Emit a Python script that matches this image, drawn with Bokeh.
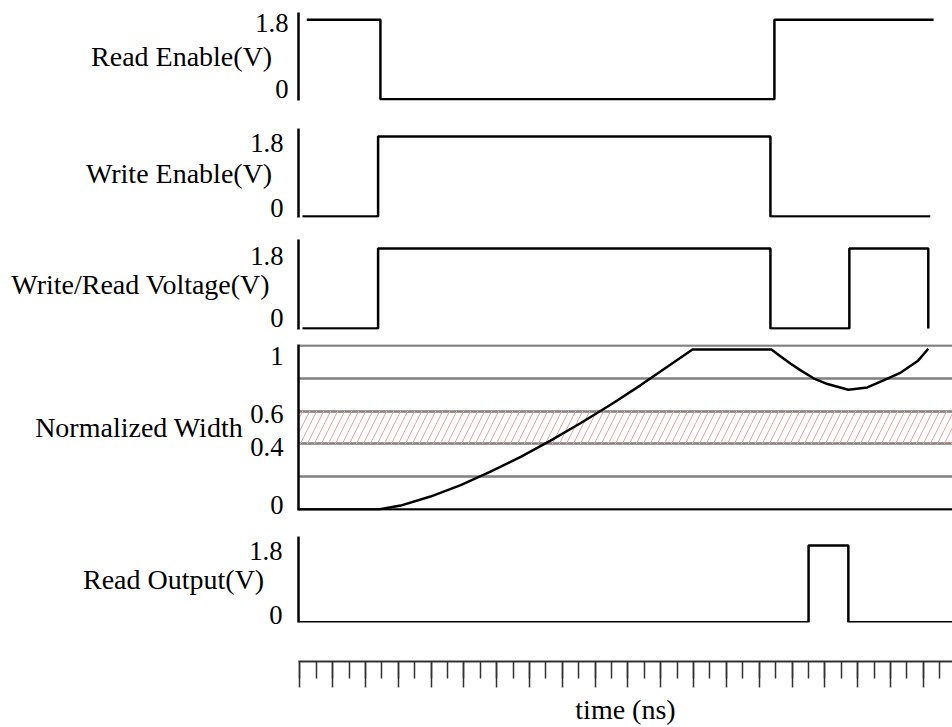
from bokeh.plotting import figure
from bokeh.layouts import column
from bokeh.models import Range1d, FixedTicker, SingleIntervalTicker, BoxAnnotation, Span
from bokeh.embed import file_html
from bokeh.resources import INLINE

# ---------------- data (time in ns) ----------------
t_panel_start = 0.17
t_axis_start = -0.04
t_end = 19.89

read_enable_t = [0.42, 2.64, 2.64, 14.52, 14.52, 19.32]
read_enable_v = [1.8, 1.8, 0.0, 0.0, 1.8, 1.8]

write_enable_t = [0.29, 2.57, 2.57, 14.40, 14.40, 19.22]
write_enable_v = [0.0, 0.0, 1.8, 1.8, 0.0, 0.0]

wr_voltage_t = [0.29, 2.57, 2.57, 14.40, 14.40, 16.78, 16.78, 19.16, 19.16]
wr_voltage_v = [0.0, 0.0, 1.8, 1.8, 0.0, 0.0, 1.8, 1.8, 0.0]

norm_width_t = [0.17, 2.58, 3.25, 4.15, 5.06, 5.96, 6.87, 7.77, 8.67, 9.58, 10.48, 11.38, 12.05,
                14.43, 14.70, 15.00, 15.30, 15.70, 16.12, 16.75, 17.32, 17.81, 18.33, 18.84, 19.16]
norm_width_v = [0.0, 0.0, 0.024, 0.079, 0.149, 0.231, 0.321, 0.420, 0.526, 0.639, 0.757, 0.882, 0.976,
                0.976, 0.935, 0.89, 0.85, 0.80, 0.765, 0.73, 0.744, 0.787, 0.835, 0.905, 0.98]

read_out_t = [0.17, 15.55, 15.55, 16.75, 16.75, 19.89]
read_out_v = [0.0, 0.0, 1.8, 1.8, 0.0, 0.0]

volt_ticks = [0.0, 1.8]
volt_labels = ["0", "1.8"]
width_ticks = [0.0, 0.4, 0.6, 1.0]
width_labels = ["0", "0.4", "0.6", "1"]
width_grid = [0.2, 0.4, 0.6, 0.8, 1.0]
band = [0.4, 0.6]

panel_names = ["Read Enable(V)", "Write Enable(V)", "Write/Read Voltage(V)",
               "Normalized Width", "Read Output(V)"]
time_label = "time (ns)"

# ---------------- style ----------------
FONT = "Liberation Serif"
TICK_SIZE = "20pt"
NAME_SIZE = "21pt"
W = 952
LEFT = 298
LW = 2.5


def base_fig(height, top, bottom, y0, y1, left=LEFT, x0=t_panel_start):
    p = figure(width=W, height=height, output_backend="svg", toolbar_location=None,
               x_range=Range1d(x0, t_end), y_range=Range1d(y0, y1),
               x_axis_type=None, min_border_left=left, min_border_right=0,
               min_border_top=top, min_border_bottom=bottom)
    p.outline_line_color = None
    p.xgrid.visible = False
    p.ygrid.visible = False
    p.background_fill_color = "white"
    p.border_fill_color = "white"
    return p


def style_yaxis(p, name, ticks, labels, shifts, label_standoff, name_standoff):
    ax = p.yaxis[0]
    pos = [t + s for t, s in zip(ticks, shifts)]
    ax.ticker = FixedTicker(ticks=pos)
    ax.major_label_overrides = {v: lab for v, lab in zip(pos, labels)}
    ax.major_tick_line_color = None
    ax.minor_tick_line_color = None
    ax.major_tick_in = 0
    ax.major_tick_out = 0
    ax.axis_line_color = "black"
    ax.axis_line_width = LW
    ax.major_label_text_font = FONT
    ax.major_label_text_font_size = TICK_SIZE
    ax.major_label_text_color = "black"
    ax.major_label_standoff = label_standoff
    ax.axis_label = name
    ax.axis_label_orientation = "horizontal"
    ax.axis_label_text_font = FONT
    ax.axis_label_text_font_size = NAME_SIZE
    ax.axis_label_text_font_style = "normal"
    ax.axis_label_text_color = "black"
    ax.axis_label_standoff = name_standoff
    return ax


figs = []

# Panel 1: Read Enable
p1 = base_fig(114, 12, 14, -0.03, 1.966)
p1.line(read_enable_t, read_enable_v, line_color="black", line_width=LW)
style_yaxis(p1, panel_names[0], volt_ticks, volt_labels, [0.24, -0.08], 10, -20)
figs.append(p1)

# Panel 2: Write Enable
p2 = base_fig(114, 14, 11, -0.023, 1.98)
p2.line(write_enable_t, write_enable_v, line_color="black", line_width=LW)
style_yaxis(p2, panel_names[1], volt_ticks, volt_labels, [0.2, -0.14], 15, -25)
figs.append(p2)

# Panel 3: Write/Read Voltage
p3 = base_fig(107, 11, 6, -0.023, 2.0)
p3.line(wr_voltage_t, wr_voltage_v, line_color="black", line_width=LW)
style_yaxis(p3, panel_names[2], volt_ticks, volt_labels, [0.23, -0.16], 15, -23)
figs.append(p3)

# Panel 4: Normalized Width
p4 = base_fig(185, 9, 10, -0.006, 1.006)
p4.ygrid.visible = True
p4.ygrid.ticker = FixedTicker(ticks=width_grid)
p4.ygrid.grid_line_color = "#808080"
p4.ygrid.grid_line_width = 2.5
p4.add_layout(BoxAnnotation(bottom=band[0], top=band[1], fill_alpha=0, fill_color=None,
                            line_color=None, hatch_pattern="/", hatch_color="#eaa5a0",
                            hatch_weight=1, hatch_scale=14, level="underlay"))
p4.add_layout(Span(location=width_ticks[0], dimension="width", line_color="black", line_width=LW))
p4.line(norm_width_t, norm_width_v, line_color="black", line_width=LW)
style_yaxis(p4, panel_names[3], width_ticks, width_labels, [0.025, -0.02, -0.015, -0.065], 15, 4)
figs.append(p4)

# Panel 5: Read Output
p5 = base_fig(120, 16, 18, -0.007, 2.01)
p5.line(read_out_t, read_out_v, line_color="black", line_width=LW)
style_yaxis(p5, panel_names[4], volt_ticks, volt_labels, [0.18, -0.12], 16, -18)
figs.append(p5)

# Time axis
pt = figure(width=W, height=87, output_backend="svg", toolbar_location=None,
            x_range=Range1d(t_axis_start, t_end), y_range=Range1d(0, 1),
            y_axis_type=None, min_border_left=291, min_border_right=0,
            min_border_top=0, min_border_bottom=62)
pt.outline_line_color = None
pt.xgrid.visible = False
pt.ygrid.visible = False
ax = pt.xaxis[0]
ax.ticker = SingleIntervalTicker(interval=1, num_minor_ticks=2)
ax.major_tick_in = 0
ax.major_tick_out = 26
ax.minor_tick_in = 0
ax.minor_tick_out = 17
ax.major_tick_line_color = "#333333"
ax.minor_tick_line_color = "#333333"
ax.major_tick_line_width = 1.5
ax.minor_tick_line_width = 1.5
ax.axis_line_color = "#333333"
ax.axis_line_width = 2
ax.major_label_text_font_size = "0px"
ax.major_label_text_color = None
ax.major_label_text_alpha = 0
ax.major_label_standoff = 0
ax.axis_label = time_label
ax.axis_label_text_font = FONT
ax.axis_label_text_font_size = NAME_SIZE
ax.axis_label_text_font_style = "normal"
ax.axis_label_text_color = "black"
ax.axis_label_standoff = 6
figs.append(pt)

layout = column(*figs, spacing=0)
open("out.html", "w").write(file_html(layout, INLINE))
